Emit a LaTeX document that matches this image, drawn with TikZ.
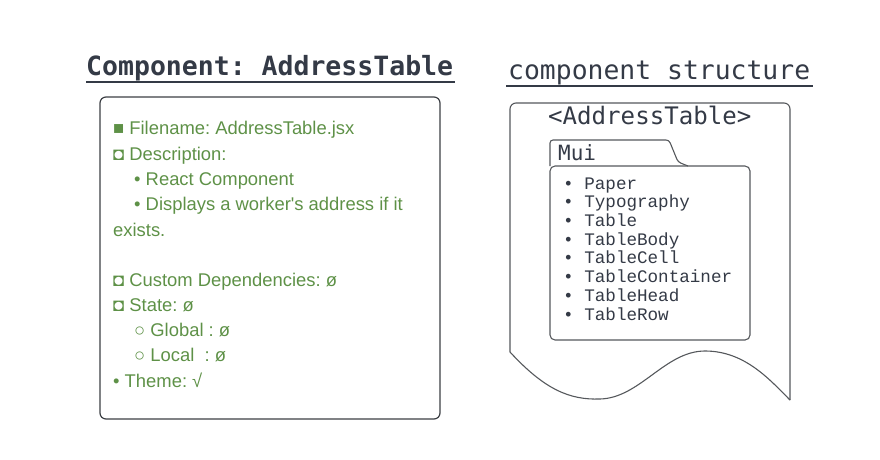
\documentclass[tikz,border=0pt]{standalone}
\usepackage{fontspec}
\setmainfont{Liberation Sans}
\setmonofont{DejaVu Sans Mono}
\newfontfamily\listfont{Liberation Mono}
\frenchspacing
\definecolor{titlegray}{HTML}{343A46}
\definecolor{notegreen}{HTML}{5E9147}
\definecolor{boxgray}{HTML}{3C3F44}
\definecolor{shapegray}{HTML}{55585C}
\tikzset{
    heading/.style={anchor=base west, inner sep=0pt, text=titlegray,
        font=\fontsize{26.4}{30}\selectfont\ttfamily},
    note/.style={anchor=base west, inner sep=0pt, text=notegreen,
        font=\fontsize{18.4}{22}\selectfont},
    muiitem/.style={anchor=base west, inner sep=0pt, text=titlegray,
        font=\fontsize{17.6}{20}\selectfont\listfont}
}

\begin{document}
\begin{tikzpicture}[x=1pt, y=-1pt]
    \useasboundingbox (0,0) rectangle (880,460);

    % left card
    \node[heading, font=\fontsize{26.5}{30}\selectfont\ttfamily\bfseries] (TITLE) at (86,75) {Component: AddressTable};
    \draw[titlegray, line width=2.7pt] (86,82) -- (455,82);
    \draw[boxgray, line width=1.2pt, rounded corners=6] (100,97) rectangle (440,419);

    \node[note] (FILE) at (113,134) {■ Filename: AddressTable.jsx};
    \node[note] (DESC) at (113,160) {◘ Description:};
    \node[note] (REACT) at (134,185) {• React Component};
    \node[note] (SHOWS) at (134,210) {• Displays a worker\textquotesingle s address if it};
    \node[note] (EXISTS) at (113,236) {exists.};
    \node[note] (DEPS) at (113,286) {◘ Custom Dependencies: ø};
    \node[note] (STATE) at (113,311) {◘ State: ø};
    \node[note] (GLOBAL) at (134,336) {○ Global : ø};
    \node[note] (LOCAL) at (134,361) {○ Local\ \ : ø};
    \node[note] (THEME) at (113,387) {• Theme: √};

    % right card
    \node[heading] (STRUCT) at (508,79) {component structure};
    \draw[titlegray, line width=1.2pt] (506,86) -- (813,86);

    \draw[shapegray, line width=1.1pt, rounded corners=6]
        (510,352) -- (510,103) -- (790,103) -- (790,400);
    \draw[shapegray, line width=1.1pt]
        (510,352) .. controls (545,390) and (570,400) .. (600,399)
        .. controls (640,398) and (665,351) .. (705,351)
        .. controls (745,351) and (770,380) .. (790,400);

    \node[heading, font=\fontsize{24.1}{28}\selectfont\ttfamily] (ADDR) at (548,124) {<AddressTable>};

    \draw[shapegray, line width=1.1pt, rounded corners=3]
        (550,166) -- (550,140) -- (669,140) -- (678,162) -- (688,166);
    \draw[shapegray, line width=1.1pt, rounded corners=5] (550,166) rectangle (750,340);
    \node[heading, font=\fontsize{21}{24}\selectfont\ttfamily] (MUI) at (558,160) {Mui};

    \node[muiitem] (PAPER) at (563,189) {• Paper};
    \node[muiitem] (TYPO) at (563,207.7) {• Typography};
    \node[muiitem] (TABLE) at (563,226.4) {• Table};
    \node[muiitem] (BODY) at (563,245.1) {• TableBody};
    \node[muiitem] (CELL) at (563,263.8) {• TableCell};
    \node[muiitem] (CONT) at (563,282.5) {• TableContainer};
    \node[muiitem] (HEAD) at (563,301.2) {• TableHead};
    \node[muiitem] (ROW) at (563,320) {• TableRow};
\end{tikzpicture}
\end{document}
